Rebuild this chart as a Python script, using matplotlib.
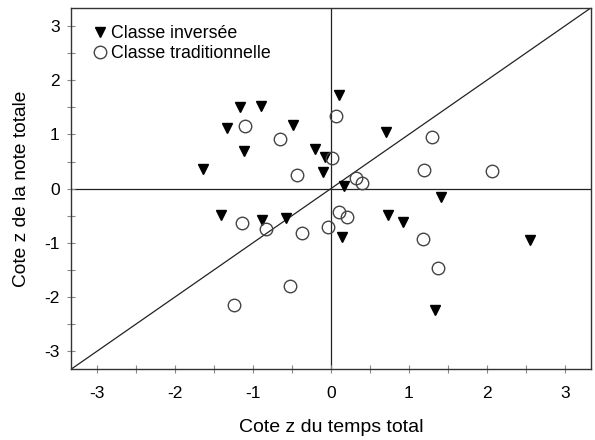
import matplotlib
matplotlib.use("Agg")
import matplotlib.pyplot as plt
from matplotlib.ticker import MultipleLocator

plt.rcParams['font.family'] = ['Liberation Sans', 'DejaVu Sans']
plt.rcParams['axes.unicode_minus'] = False

inv_x = [-1.64, -1.33, -1.16, -0.89, -1.11, -0.49, -0.20, -0.08, -0.10, 0.11, 0.71,
         0.17, 1.41, -1.41, -0.88, -0.58, 0.14, 0.73, 0.92, 2.55, 1.34]
inv_y = [0.37, 1.11, 1.51, 1.52, 0.69, 1.17, 0.73, 0.58, 0.31, 1.72, 1.05,
         0.04, -0.15, -0.49, -0.57, -0.54, -0.89, -0.48, -0.61, -0.95, -2.23]

trad_x = [-1.10, -0.65, -0.44, 0.07, 0.02, 1.29, 1.20, 2.06, 0.32, 0.40,
          -1.14, -0.83, -0.37, -0.04, 0.11, 0.21, -0.52, -1.24, 1.18, 1.37]
trad_y = [1.15, 0.91, 0.25, 1.34, 0.56, 0.95, 0.34, 0.33, 0.20, 0.11,
          -0.63, -0.75, -0.81, -0.70, -0.43, -0.52, -1.80, -2.15, -0.93, -1.47]

ticks = [-3, -2, -1, 0, 1, 2, 3]
lim = 3.33

fig = plt.figure(figsize=(5.95, 4.4), dpi=100)
ax = fig.add_axes([0.1193, 0.1607, 0.8735, 0.8211])

ax.plot([-lim, lim], [-lim, lim], color='#222222', lw=0.9, zorder=1)
ax.axhline(0, color='#222222', lw=0.9, zorder=1)
ax.axvline(0, color='#222222', lw=0.9, zorder=1)

ax.plot(inv_x, inv_y, linestyle='none', marker='v', markersize=7.5,
        color='black', label='Classe inversée', zorder=3)
ax.plot(trad_x, trad_y, linestyle='none', marker='o', markersize=9,
        markerfacecolor='none', markeredgecolor='#444444', markeredgewidth=1.0,
        label='Classe traditionnelle', zorder=3)

ax.set_xlim(-lim, lim)
ax.set_ylim(-lim, lim)
ax.set_xticks(ticks)
ax.set_yticks(ticks)
ax.xaxis.set_minor_locator(MultipleLocator(0.5))
ax.yaxis.set_minor_locator(MultipleLocator(0.5))
ax.tick_params(which='both', direction='inout', length=6, width=0.8,
               color='#888888', labelsize=12.5, labelcolor='black')
ax.tick_params(axis='x', pad=9)
ax.tick_params(axis='y', pad=5)
for s in ax.spines.values():
    s.set_color('#333333')
    s.set_linewidth(1.0)

ax.set_xlabel('Cote z du temps total', fontsize=14, labelpad=13)
ax.set_ylabel('Cote z de la note totale', fontsize=13.8, labelpad=10)

ax.legend(loc='upper left', bbox_to_anchor=(0.022, 0.982), frameon=False,
          fontsize=12.8, handlelength=0.8, handletextpad=0.2,
          labelspacing=0.15, borderaxespad=0.2, borderpad=0.4)

fig.savefig('out.png', dpi=100)
